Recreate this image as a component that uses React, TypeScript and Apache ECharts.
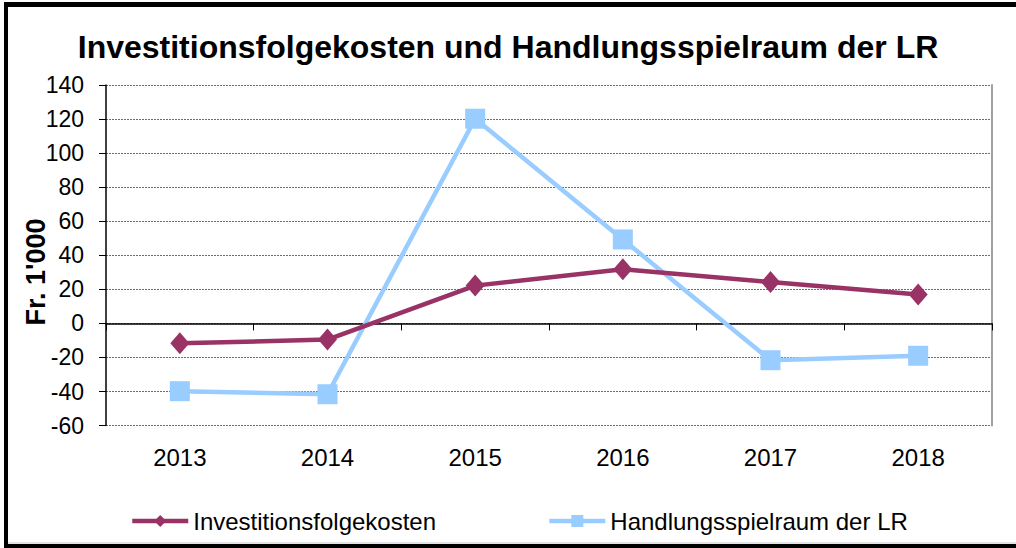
import React, { useEffect, useRef } from "react";
import * as echarts from "echarts";

const years = ["2013", "2014", "2015", "2016", "2017", "2018"];
const investitionsfolgekosten = [-11.7, -9.5, 22.2, 31.8, 24.3, 17];
const handlungsspielraum = [-39.8, -41.6, 120.2, 49.3, -21.6, -19];
const yTicks = { min: -60, max: 140, interval: 20 };
const yAxisTitle = "Fr. 1'000";

const FONT = "'Liberation Sans', Arial, sans-serif";

export default function App() {
  const ref = useRef<HTMLDivElement>(null);
  useEffect(() => {
    const chart = echarts.init(ref.current!, undefined, { renderer: "svg" });
    chart.setOption({
      animation: false,
      backgroundColor: "#ffffff",
      textStyle: { fontFamily: FONT, color: "#000" },
      title: {
        text: "Investitionsfolgekosten und Handlungsspielraum der LR",
        left: "center",
        top: 26,
        textStyle: { fontSize: 32, fontWeight: "bold", color: "#000", fontFamily: FONT },
      },
      grid: { left: 106, right: 24, top: 85, bottom: 122.4, containLabel: false },
      legend: {
        left: 125,
        top: 504,
        itemWidth: 56,
        itemHeight: 15,
        itemGap: 111,
        textStyle: { fontSize: 24, color: "#000", fontFamily: FONT },
        lineStyle: { width: 4.5 },
        data: ["Investitionsfolgekosten", "Handlungsspielraum der LR"],
      },
      xAxis: [
        {
          type: "category",
          data: years,
          boundaryGap: true,
          axisLine: { onZero: true, lineStyle: { color: "#000", width: 1.5 } },
          axisTick: { show: true, length: 7, lineStyle: { color: "#000" } },
          axisLabel: { show: false },
        },
        {
          type: "category",
          data: years,
          position: "bottom",
          boundaryGap: true,
          axisLine: { show: false, onZero: false },
          axisTick: { show: false },
          axisLabel: { show: true, fontSize: 24, color: "#000", margin: 20, fontFamily: FONT },
        },
      ],
      yAxis: [
        {
          type: "value",
          min: yTicks.min,
          max: yTicks.max,
          interval: yTicks.interval,
          axisLine: { show: true, lineStyle: { color: "#000", width: 1.5 } },
          axisTick: { show: true, length: 7, lineStyle: { color: "#000" } },
          axisLabel: { fontSize: 23, color: "#000", margin: 22, fontFamily: FONT },
          splitLine: { show: true, lineStyle: { color: "#6e6e6e", type: [2, 1], width: 1 } },
        },
        {
          type: "value",
          min: yTicks.min,
          max: yTicks.max,
          interval: yTicks.interval,
          position: "right",
          axisLine: { show: true, lineStyle: { color: "#a0a0a0", width: 2 } },
          axisTick: { show: false },
          axisLabel: { show: false },
          splitLine: { show: false },
        },
      ],
      series: [
        {
          name: "Investitionsfolgekosten",
          type: "line",
          data: investitionsfolgekosten,
          symbol: "diamond",
          symbolSize: [19, 22],
          color: "#993366",
          lineStyle: { color: "#993366", width: 4.5 },
          itemStyle: { color: "#993366" },
          z: 3,
        },
        {
          name: "Handlungsspielraum der LR",
          type: "line",
          data: handlungsspielraum,
          symbol: "rect",
          symbolSize: 20,
          color: "#99ccff",
          lineStyle: { color: "#99ccff", width: 4.5 },
          itemStyle: { color: "#99ccff" },
          z: 2,
        },
      ],
      graphic: [
        {
          type: "text",
          x: 36,
          y: 272,
          rotation: Math.PI / 2,
          style: {
            text: yAxisTitle,
            fontSize: 27,
            fontWeight: "bold",
            fontFamily: FONT,
            fill: "#000",
            align: "center",
            verticalAlign: "middle",
          },
          silent: true,
        },
        { type: "rect", shape: { x: 4, y: 2, width: 1012, height: 5 }, style: { fill: "#000" }, silent: true },
        { type: "rect", shape: { x: 4, y: 2, width: 4, height: 546 }, style: { fill: "#000" }, silent: true },
        { type: "rect", shape: { x: 4, y: 544, width: 1012, height: 4 }, style: { fill: "#000" }, silent: true },
        { type: "line", shape: { x1: 8, y1: 543, x2: 1016, y2: 543 }, style: { stroke: "#c8c8c8", lineWidth: 1 }, silent: true },
      ],
    });
    return () => chart.dispose();
  }, []);
  return (
    <div
      ref={ref}
      style={{ position: "absolute", left: 0, top: 0, width: 1016, height: 548 }}
    />
  );
}
